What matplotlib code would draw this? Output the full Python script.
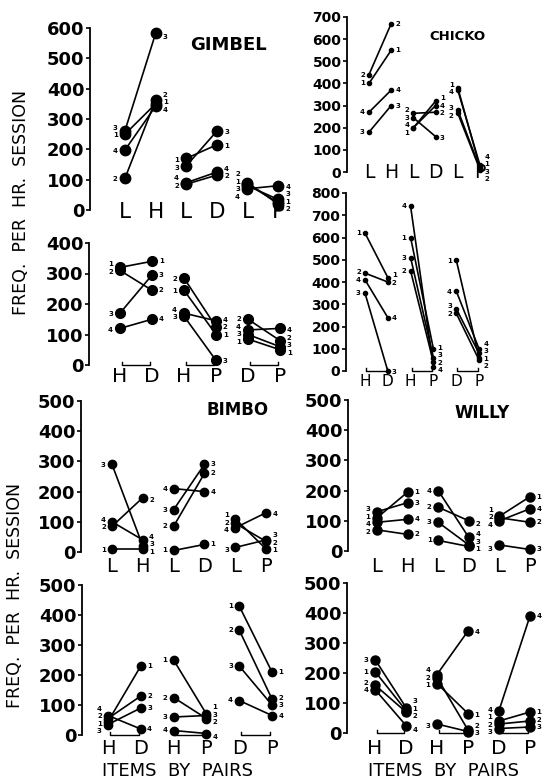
import matplotlib.pyplot as plt

W, H = 542, 782

top_items = ["L", "H", "L", "D", "L", "P"]
bottom_items = ["H", "D", "H", "P", "D", "P"]
subjects = ["1", "2", "3", "4"]

# one list per pair of items, subject 1..4 -> (first item, second item)
gimbel_top = [
    [(250, 350), (105, 362), (262, 582), (198, 342)],   # L-H
    [(170, 215), (85, 115), (145, 260), (90, 125)],     # L-D
    [(85, 25), (90, 20), (80, 35), (70, 80)],           # L-P
]
gimbel_bottom = [
    [(320, 340), (310, 245), (170, 295), (120, 150)],   # H-D
    [(245, 100), (285, 125), (160, 15), (170, 145)],    # H-P
    [(85, 50), (150, 80), (100, 60), (115, 120)],       # D-P
]
chicko_top = [
    [(400, 550), (440, 670), (180, 300), (270, 370)],
    [(200, 320), (265, 270), (245, 160), (200, 300)],
    [(380, 20), (265, 10), (280, 15), (370, 30)],
]
chicko_bottom = [
    [(620, 420), (440, 400), (350, 0), (410, 240)],
    [(600, 100), (450, 40), (510, 60), (740, 20)],
    [(500, 60), (260, 50), (280, 80), (360, 100)],
]
bimbo_top = [
    [(10, 10), (85, 180), (290, 20), (100, 40)],
    [(5, 25), (85, 260), (140, 290), (210, 200)],
    [(110, 10), (95, 35), (15, 40), (80, 130)],
]
bimbo_bottom = [
    [(45, 230), (55, 130), (35, 90), (65, 20)],
    [(250, 70), (125, 55), (60, 65), (15, 5)],
    [(430, 210), (350, 120), (230, 100), (115, 65)],
]
willy_top = [
    [(110, 195), (70, 55), (130, 160), (95, 105)],
    [(35, 15), (145, 100), (95, 20), (200, 45)],
    [(115, 180), (110, 95), (20, 5), (100, 140)],
]
willy_bottom = [
    [(205, 75), (160, 70), (245, 85), (145, 25)],
    [(165, 65), (185, 10), (30, 5), (195, 340)],
    [(40, 70), (30, 40), (15, 20), (75, 390)],
]

# geometry in pixels: spine x, zero y, top tick y, first item x, item step, right edge
panels = [
    dict(data=gimbel_top, items=top_items, ymax=600, geo=(90, 210, 28, 125, 30.6, 295),
         ms=7.5, tfs=13, ifs=15.5, ioff=-2, title="GIMBEL", tpos=(228, 45), ttfs=13),
    dict(data=gimbel_bottom, items=bottom_items, ymax=400, geo=(89, 365, 243, 120, 32, 295),
         ms=7, tfs=13, ifs=14.5, ioff=-12, bracket=True),
    dict(data=chicko_top, items=top_items, ymax=700, geo=(347, 172, 17, 369, 22.2, 542),
         ms=3, tfs=10, ifs=13.5, ioff=0, title="CHICKO", tpos=(457, 36), ttfs=9.5),
    dict(data=chicko_bottom, items=bottom_items, ymax=800, geo=(346, 371, 193, 365, 22.8, 542),
         ms=3, tfs=10, ifs=11, ioff=-11, bracket=True),
    dict(data=bimbo_top, items=top_items, ymax=500, geo=(81, 552, 401, 112, 30.8, 295),
         ms=6, tfs=13, ifs=14, ioff=-15, title="BIMBO", tpos=(238, 410), ttfs=12),
    dict(data=bimbo_bottom, items=bottom_items, ymax=500, geo=(82, 735, 585, 108, 32.8, 295),
         ms=6, tfs=13, ifs=14, ioff=-13, bracket=True),
    dict(data=willy_top, items=top_items, ymax=500, geo=(348, 551, 400, 377, 30.6, 542),
         ms=6.5, tfs=13, ifs=14, ioff=-16, title="WILLY", tpos=(482, 413), ttfs=12),
    dict(data=willy_bottom, items=bottom_items, ymax=500, geo=(347, 733, 583, 375, 31, 542),
         ms=6.5, tfs=13, ifs=14.5, ioff=-16, bracket=True),
]


def spread(px, gap):
    # nudge label heights apart so the little numbers don't sit on each other
    order = sorted(range(len(px)), key=lambda k: px[k])
    out = list(px)
    for n in range(1, len(order)):
        a, b = order[n - 1], order[n]
        if out[b] - out[a] < gap:
            out[b] = out[a] + gap
    shift = (sum(out) - sum(px)) / len(px)
    return [o - shift for o in out]


fig = plt.figure(figsize=(W / 100, H / 100), dpi=100)

for p in panels:
    sx, y0, yt, first, dx, right = p["geo"]
    ax = fig.add_axes([sx / W, 1 - y0 / H, (right - sx) / W, (y0 - yt) / H])
    lo = -(first - sx) / dx
    ax.set_xlim(lo, lo + (right - sx) / dx)
    ax.set_ylim(0, p["ymax"])
    for s in ["top", "right", "bottom"]:
        ax.spines[s].set_visible(False)
    ax.spines["left"].set_linewidth(1.3)
    ax.set_xticks([])
    ax.set_yticks(range(0, p["ymax"] + 1, 100))
    ax.tick_params(axis="y", length=3, width=1.2, pad=1, labelsize=p["tfs"])
    for lab in ax.get_yticklabels():
        lab.set_fontweight("bold")
    ax.patch.set_alpha(0)

    scale = (y0 - yt) / p["ymax"]
    for i, pair in enumerate(p["data"]):
        x0, x1 = 2 * i, 2 * i + 1
        for subj, (a, b) in zip(subjects, pair):
            ax.plot([x0, x1], [a, b], color="black", lw=1.2, marker="o",
                    ms=p["ms"], clip_on=False)
        for side, x, ha, sign in [(0, x0, "right", -1), (1, x1, "left", 1)]:
            vals = [v[side] for v in pair]
            px = [v * scale for v in vals]
            new = spread(px, 7.5)
            for subj, v, old, nw in zip(subjects, vals, px, new):
                ax.annotate(subj, (x, v), xytext=(sign * (p["ms"] / 2 + 1.5), (nw - old) * 0.72),
                            textcoords="offset points", ha=ha, va="center",
                            fontsize=5, fontweight="bold")
        if p.get("bracket"):
            t = 3 / (y0 - yt) * p["ymax"]
            ax.plot([x0 + 0.05, x0 + 0.05, x1 - 0.05, x1 - 0.05], [t, 0, 0, t],
                    color="black", lw=1, clip_on=False)

    for j, item in enumerate(p["items"]):
        ax.annotate(item, (j, 0), xytext=(0, p["ioff"] * 0.72), textcoords="offset points",
                    ha="center", va="center", fontsize=p["ifs"])

    if "title" in p:
        tx, ty = p["tpos"]
        fig.text(tx / W, 1 - ty / H, p["title"], ha="center", va="center",
                 fontsize=p["ttfs"], fontweight="bold")

fig.text(21 / W, 1 - 202 / H, "FREQ.  PER  HR.  SESSION", rotation=90,
         ha="center", va="center", fontsize=12.5)
fig.text(15 / W, 1 - 595 / H, "FREQ.  PER  HR.  SESSION", rotation=90,
         ha="center", va="center", fontsize=12.5)
fig.text(178 / W, 1 - 771 / H, "ITEMS  BY  PAIRS", ha="center", va="center", fontsize=13)
fig.text(443 / W, 1 - 771 / H, "ITEMS  BY  PAIRS", ha="center", va="center", fontsize=13)

fig.savefig("out.png", dpi=100)
